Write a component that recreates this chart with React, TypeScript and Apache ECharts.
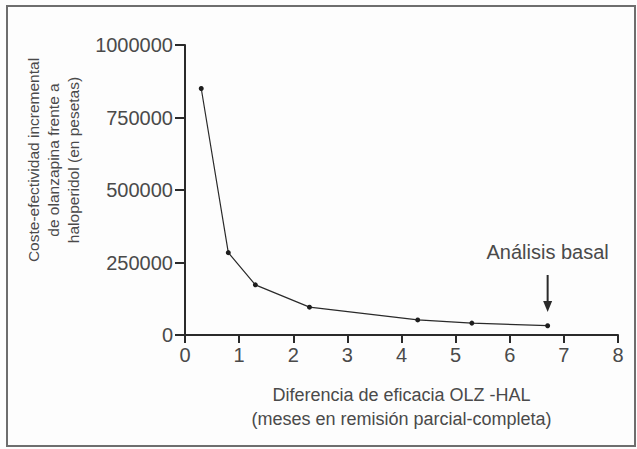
import React, { useEffect, useRef } from "react";
import * as echarts from "echarts";

const xValues = [0.3, 0.8, 1.3, 2.3, 4.3, 5.3, 6.7];
const yValues = [850000, 284000, 173000, 96000, 52000, 41000, 32000];
const yTicks = [0, 250000, 500000, 750000, 1000000];
const xTicks = [0, 1, 2, 3, 4, 5, 6, 7, 8];
const yNameLines = [
  "Coste-efectividad incremental",
  "de olanzapina frente a",
  "haloperidol (en pesetas)",
];
const xNameLines = [
  "Diferencia de eficacia OLZ -HAL",
  "(meses en remisión parcial-completa)",
];
const annotationText = "Análisis basal";
const annotationX = 6.7;
const arrowTopValue = 207000;
const arrowTipValue = 79000;
const annotationTextValue = 285000;

const FONT = "'Liberation Sans', Arial, Helvetica, sans-serif";
const TEXT_COLOR = "#4a4a4a";
const LINE_COLOR = "#2a2a2a";

export default function App() {
  const ref = useRef<HTMLDivElement>(null);
  useEffect(() => {
    if (!ref.current) return;
    const chart = echarts.init(ref.current, null, { renderer: "svg" });
    const data = xValues.map((x, i) => [x, yValues[i]]);
    chart.setOption({
      animation: false,
      backgroundColor: "#fdfdfd",
      textStyle: { fontFamily: FONT },
      grid: { left: 185, right: 19, top: 45, bottom: 114, containLabel: false },
      xAxis: {
        type: "value",
        min: xTicks[0],
        max: xTicks[xTicks.length - 1],
        interval: 1,
        name: xNameLines.join("\n"),
        nameLocation: "middle",
        nameGap: 48,
        nameTextStyle: { fontSize: 18, color: TEXT_COLOR, lineHeight: 24, fontFamily: FONT },
        axisLine: { show: true, onZero: false, lineStyle: { color: LINE_COLOR, width: 2 } },
        axisTick: { show: true, length: 8, inside: false, lineStyle: { color: LINE_COLOR, width: 2 } },
        axisLabel: { fontSize: 20, color: TEXT_COLOR, margin: 10, fontFamily: FONT },
        splitLine: { show: false },
      },
      yAxis: {
        type: "value",
        min: yTicks[0],
        max: yTicks[yTicks.length - 1],
        interval: 250000,
        axisLine: { show: true, onZero: false, lineStyle: { color: LINE_COLOR, width: 2 } },
        axisTick: { show: true, length: 10, inside: false, lineStyle: { color: LINE_COLOR, width: 2 } },
        axisLabel: {
          fontSize: 20,
          color: TEXT_COLOR,
          margin: 12,
          fontFamily: FONT,
          formatter: (v: number) => String(v),
        },
        splitLine: { show: false },
      },
      series: [
        {
          type: "line",
          data,
          symbol: "circle",
          symbolSize: 5,
          showSymbol: true,
          lineStyle: { color: LINE_COLOR, width: 1.2 },
          itemStyle: { color: "#1e1e1e" },
          z: 3,
        },
      ],
    });

    const top = chart.convertToPixel({ gridIndex: 0 }, [annotationX, arrowTopValue]) as number[];
    const tip = chart.convertToPixel({ gridIndex: 0 }, [annotationX, arrowTipValue]) as number[];
    const txt = chart.convertToPixel({ gridIndex: 0 }, [annotationX, annotationTextValue]) as number[];

    chart.setOption({
      graphic: [
        {
          type: "rect",
          shape: { x: 7, y: 6, width: 628, height: 440 },
          style: { fill: "none", stroke: "#6e6e6e", lineWidth: 2 },
          z: 0,
          silent: true,
        },
        {
          type: "text",
          x: 53,
          y: 160,
          rotation: Math.PI / 2,
          style: {
            text: yNameLines.join("\n"),
            font: `15.5px ${FONT}`,
            fill: TEXT_COLOR,
            align: "center",
            verticalAlign: "middle",
            lineHeight: 20,
          },
        },
        {
          type: "text",
          x: txt[0],
          y: txt[1],
          style: {
            text: annotationText,
            font: `20px ${FONT}`,
            fill: TEXT_COLOR,
            align: "center",
            verticalAlign: "middle",
          },
        },
        {
          type: "line",
          shape: { x1: top[0], y1: top[1], x2: tip[0], y2: tip[1] - 8 },
          style: { stroke: LINE_COLOR, lineWidth: 2 },
        },
        {
          type: "polygon",
          shape: {
            points: [
              [tip[0] - 4.5, tip[1] - 11],
              [tip[0] + 4.5, tip[1] - 11],
              [tip[0], tip[1]],
            ],
          },
          style: { fill: LINE_COLOR },
        },
      ],
    });

    return () => chart.dispose();
  }, []);
  return (
    <div
      ref={ref}
      style={{ position: "fixed", left: 0, top: 0, width: 637, height: 449 }}
    />
  );
}
